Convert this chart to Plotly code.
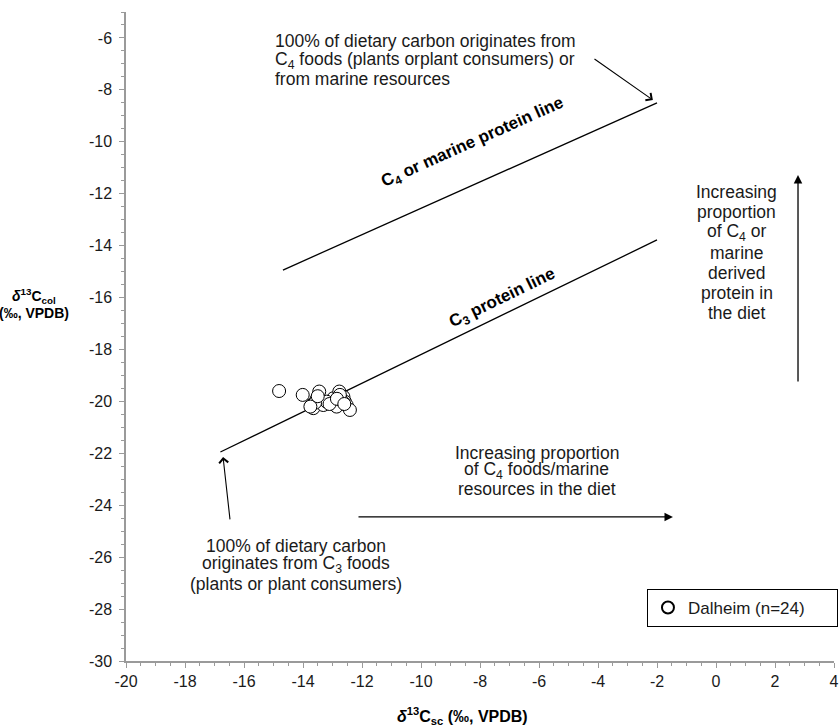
import plotly.graph_objects as go

# Data points (Dalheim, n=24)
sc_x = [-14.81, -14.01, -13.45, -13.54, -13.71, -13.65, -13.31, -12.97, -12.77, -12.63,
        -12.92, -12.86, -12.58, -12.52, -12.41, -13.20, -13.59, -12.70, -12.75, -13.10,
        -13.75, -12.85, -13.50, -12.60]
col_y = [-19.60, -19.75, -19.62, -19.92, -20.14, -20.26, -20.14, -19.88, -19.62, -19.82,
         -20.07, -20.20, -20.01, -20.14, -20.33, -20.01, -20.05, -19.95, -19.75, -20.10,
         -20.20, -19.90, -19.80, -20.10]

# Reference lines
c3_line_x = [-16.8, -2.0]
c3_line_y = [-21.95, -13.78]
c4_line_x = [-14.68, -2.0]
c4_line_y = [-14.94, -8.5]

x_range = [-20, 4]
y_range = [-30, -5]
x_ticks = [-20, -18, -16, -14, -12, -10, -8, -6, -4, -2, 0, 2, 4]
x_ticklabels = ["-20", "-18", "-16", "-14", "-12", "-10", "-8", "-6", "-4", "-2", "0", "2", "4"]
y_ticks = [-30, -28, -26, -24, -22, -20, -18, -16, -14, -12, -10, -8, -6]
y_ticklabels = ["-30", "-28", "-26", "-24", "-22", "-20", "-18", "-16", "-14", "-12", "-10", "-8", "-6"]

# Text blocks (one entry per line)
top_lines = ["100% of dietary carbon originates from",
             "C<sub>4</sub> foods (plants orplant consumers) or",
             "from marine resources"]
bottom_lines = ["100% of dietary carbon",
                "originates from C<sub>3</sub> foods",
                "(plants or plant consumers)"]
horiz_lines = ["Increasing proportion",
               "of C<sub>4</sub> foods/marine",
               "resources in the diet"]
vert_lines = ["Increasing", "proportion", "of C<sub>4</sub> or", "marine",
              "derived", "protein in", "the diet"]

FONT = "Liberation Sans, Arial, sans-serif"
AX = "#9a9a9a"
TXT = "#1a1a1a"

fig = go.Figure()
fig.add_trace(go.Scatter(x=c3_line_x, y=c3_line_y, mode="lines",
                         line=dict(color="black", width=1.3), showlegend=False, hoverinfo="skip"))
fig.add_trace(go.Scatter(x=c4_line_x, y=c4_line_y, mode="lines",
                         line=dict(color="black", width=1.3), showlegend=False, hoverinfo="skip"))
fig.add_trace(go.Scatter(x=sc_x, y=col_y, mode="markers", name="Dalheim (n=24)",
                         marker=dict(symbol="circle", size=13, color="white",
                                     line=dict(color="black", width=1))))

ann = []
# arrows
arrow_common = dict(xref="x", yref="y", axref="x", ayref="y", showarrow=True,
                    arrowcolor="black", standoff=0, text="")
ann.append(dict(x=-2.14, y=-8.39, ax=-4.17, ay=-6.77, arrowhead=4, arrowsize=1.6, arrowwidth=1.1, **arrow_common))
ann.append(dict(x=-16.71, y=-22.14, ax=-16.47, ay=-24.6, arrowhead=4, arrowsize=1.6, arrowwidth=1.1, **arrow_common))
ann.append(dict(x=-1.46, y=-24.45, ax=-12.17, ay=-24.45, arrowhead=2, arrowsize=1.3, arrowwidth=1.3, **arrow_common))
ann.append(dict(x=2.78, y=-11.28, ax=2.78, ay=-19.29, arrowhead=2, arrowsize=1.3, arrowwidth=1.3, **arrow_common))

tf = dict(family=FONT, size=17.5, color=TXT)


def add_block(lines, x, y0, dy, xanchor):
    for i, t in enumerate(lines):
        ann.append(dict(x=x, y=y0 - i * dy, xref="x", yref="y", xanchor=xanchor, yanchor="middle",
                        showarrow=False, font=tf, text=t))


add_block(top_lines, -15.02, -6.12, 0.73, "left")
add_block(bottom_lines, -14.24, -25.57, 0.73, "center")
add_block(horiz_lines, -6.07, -21.99, 0.69, "center")
add_block(vert_lines, 0.71, -11.93, 0.78, "center")

bf = dict(family=FONT, size=17, color="black")
ann.append(dict(x=-8.24, y=-10.04, xref="x", yref="y", textangle=-24.1, showarrow=False, font=bf,
                text="<b>C<sub>4</sub> or marine protein line</b>"))
ann.append(dict(x=-7.25, y=-16.05, xref="x", yref="y", textangle=-25.9, showarrow=False, font=bf,
                text="<b>C<sub>3</sub> protein line</b>"))
# axis titles
lf = dict(family=FONT, size=14, color="black")
ann.append(dict(x=-0.130, y=-15.94, xref="paper", yref="y", xanchor="center", yanchor="middle",
                showarrow=False, font=lf, text="<b><i>δ</i><sup>13</sup>C<sub>col</sub></b>"))
ann.append(dict(x=-0.130, y=-16.59, xref="paper", yref="y", xanchor="center", yanchor="middle",
                showarrow=False, font=lf, text="<b>(‰, VPDB)</b>"))
ann.append(dict(x=-8.58, y=-0.084, xref="x", yref="paper", xanchor="center", yanchor="middle",
                showarrow=False, font=dict(family=FONT, size=16, color="black"),
                text="<b><i>δ</i><sup>13</sup>C<sub>sc</sub> (‰, VPDB)</b>"))

fig.update_layout(
    width=839, height=727,
    margin=dict(l=126, r=5, t=12, b=66, autoexpand=False),
    paper_bgcolor="white", plot_bgcolor="white",
    font=dict(family=FONT, size=16, color=TXT),
    annotations=ann,
    showlegend=True,
    legend=dict(x=1.0056, y=0.0817, xanchor="right", yanchor="middle", orientation="h",
                entrywidth=144, bordercolor="black", borderwidth=1, bgcolor="white",
                font=dict(family=FONT, size=17, color=TXT), itemsizing="constant"),
)
axis_common = dict(showgrid=False, zeroline=False, showline=True, linecolor=AX, linewidth=1.5,
                   ticks="outside", ticklen=5, tickcolor=AX, tickwidth=1, automargin=False,
                   tickfont=dict(family=FONT, size=16, color=TXT),
                   minor=dict(dtick=0.5, ticks="outside", ticklen=3, tickcolor=AX, tickwidth=1))
fig.update_xaxes(range=x_range, tickmode="array", tickvals=x_ticks, ticktext=x_ticklabels, **axis_common)
fig.update_yaxes(range=y_range, tickmode="array", tickvals=y_ticks, ticktext=y_ticklabels,
                 ticklabelstandoff=4, **axis_common)

fig.write_html("out.html", config={"displayModeBar": False},
               post_script="document.body.style.margin='0';document.body.style.overflow='hidden';")
